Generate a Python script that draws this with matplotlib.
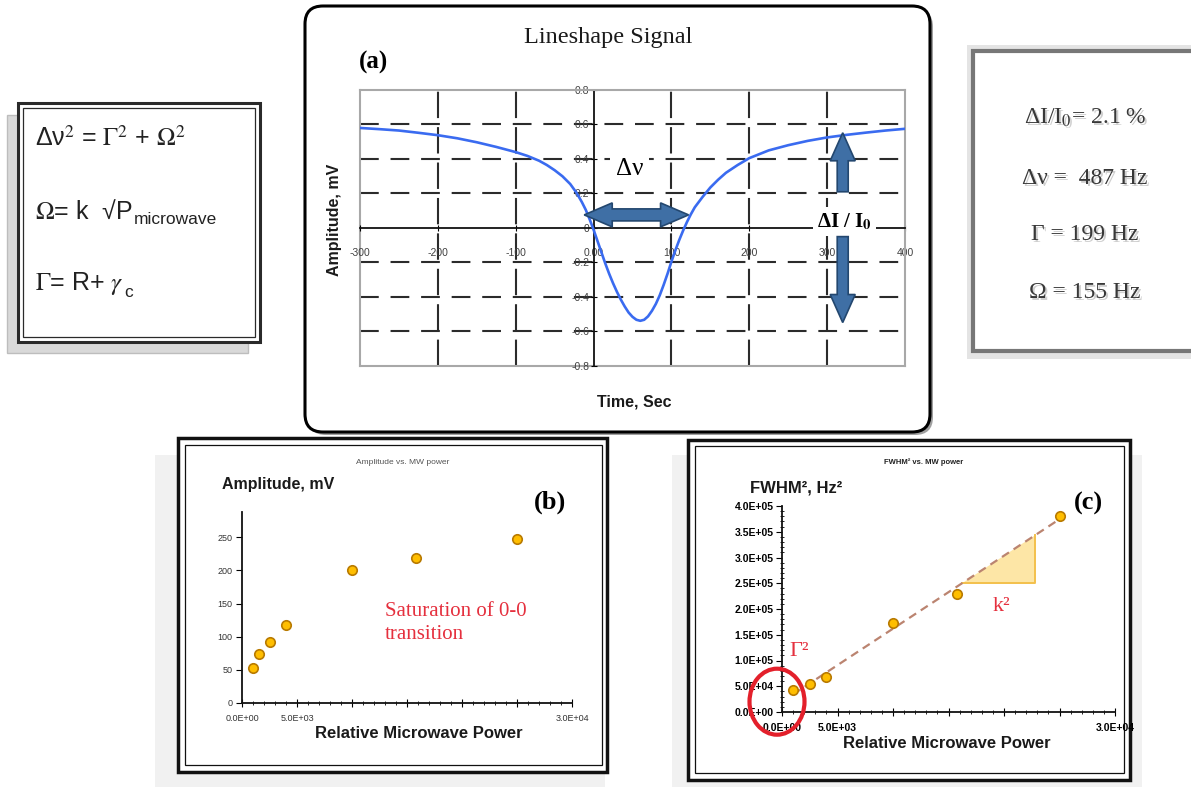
import numpy as np
import matplotlib
matplotlib.use("Agg")
import matplotlib.pyplot as plt
from matplotlib.patches import Rectangle, FancyBboxPatch, Ellipse, Polygon, FancyArrow

plt.rcParams['lines.scale_dashes'] = False
plt.rcParams['font.family'] = ['Liberation Sans', 'DejaVu Sans']

W, H, DPI = 1191, 787, 100

# ---------------- data ----------------
# (a) lineshape signal
time_sec = [-300, -275, -250, -225, -200, -175, -150, -125, -100, -85, -70, -60, -50, -40,
            -30, -22, -15, -10, -5, 0, 5, 10, 15, 20, 25, 30, 35, 40, 45, 50, 55, 60, 65,
            70, 75, 80, 85, 90, 95, 100, 105, 110, 115, 120, 125, 130, 140, 150, 160, 170,
            185, 200, 225, 250, 275, 300, 325, 350, 375, 400]
amp_mV = [0.58, 0.573, 0.565, 0.552, 0.538, 0.52, 0.497, 0.47, 0.44, 0.418, 0.39, 0.365,
          0.335, 0.30, 0.255, 0.205, 0.15, 0.105, 0.05, -0.01, -0.075, -0.14, -0.205,
          -0.265, -0.32, -0.37, -0.415, -0.455, -0.49, -0.515, -0.532, -0.538, -0.532,
          -0.512, -0.48, -0.44, -0.39, -0.33, -0.265, -0.195, -0.13, -0.07, -0.015, 0.035,
          0.08, 0.12, 0.18, 0.235, 0.28, 0.32, 0.365, 0.405, 0.45, 0.48, 0.505, 0.525,
          0.54, 0.553, 0.565, 0.575]
a_xticks = [-300, -200, -100, 0, 100, 200, 300, 400]
a_xticklabels = ['-300', '-200', '-100', '0.00', '100', '200', '300', '400']
a_yticks = [-0.8, -0.6, -0.4, -0.2, 0, 0.2, 0.4, 0.6, 0.8]
a_yticklabels = ['-0.8', '-0.6', '-0.4', '-0.2', '0', '0.2', '0.4', '0.6', '0.8']

# (b) amplitude vs microwave power
power_b = [1000, 1500, 2500, 4000, 10000, 15800, 25000]
amp_b = [53, 74, 92, 117, 201, 219, 248]
b_yticks = [0, 50, 100, 150, 200, 250]

# (c) FWHM^2 vs microwave power
power_c = [1000, 2500, 4000, 10000, 15800, 25000]
fwhm2_c = [42000, 55000, 68000, 172000, 229000, 381000]
c_yticks = [0, 5e4, 1e5, 1.5e5, 2e5, 2.5e5, 3e5, 3.5e5, 4e5]
c_yticklabels = ['0.0E+00', '5.0E+04', '1.0E+05', '1.5E+05', '2.0E+05',
                 '2.5E+05', '3.0E+05', '3.5E+05', '4.0E+05']

power_ticks = [0, 5000, 10000, 15000, 20000, 25000, 30000]
power_ticklabels = ['0.0E+00', '5.0E+03', '', '', '', '', '3.0E+04']

# fitted parameters box
results = ['ΔI/I$_0$= 2.1 %', 'Δν =  487 Hz', 'Γ = 199 Hz', 'Ω = 155 Hz']


def R(l, t, r, b):
    return [l / W, 1 - b / H, (r - l) / W, (b - t) / H]


fig = plt.figure(figsize=(W / DPI, H / DPI), dpi=DPI)
fig.patch.set_facecolor('white')

bg = fig.add_axes([0, 0, 1, 1], zorder=0)
bg.set_xlim(0, W); bg.set_ylim(H, 0); bg.axis('off')

ov = fig.add_axes([0, 0, 1, 1], zorder=10)
ov.set_xlim(0, W); ov.set_ylim(H, 0); ov.axis('off')

# ---------------- frames ----------------
bg.add_patch(Rectangle((155, 455), 450, 332, fc='#f1f1f1', ec='none', zorder=0))
bg.add_patch(Rectangle((672, 455), 470, 332, fc='#f1f1f1', ec='none', zorder=0))

bg.add_patch(FancyBboxPatch((308, 9), 625, 426, boxstyle='round,pad=0,rounding_size=18',
                            fc='#a0a0a0', ec='none', zorder=1))
bg.add_patch(FancyBboxPatch((305, 6), 625, 426, boxstyle='round,pad=0,rounding_size=18',
                            fc='white', ec='black', lw=2.2, zorder=2))

bg.add_patch(Rectangle((7, 115), 241, 238, fc='#d9d9d9', ec='#bdbdbd', lw=1, zorder=1))
bg.add_patch(Rectangle((18, 103), 242, 239, fc='white', ec='#2a2a2a', lw=2.2, zorder=2))
bg.add_patch(Rectangle((23, 108), 232, 229, fc='none', ec='#2a2a2a', lw=0.9, zorder=3))

bg.add_patch(Rectangle((967, 45), 240, 314, fc='#e4e4e4', ec='none', zorder=1))
bg.add_patch(Rectangle((973, 51), 240, 300, fc='white', ec='#777777', lw=3, zorder=2))

bg.add_patch(Rectangle((178, 438), 429, 334, fc='white', ec='#111111', lw=2.5, zorder=2))
bg.add_patch(Rectangle((185, 445), 417, 320, fc='none', ec='#111111', lw=0.9, zorder=3))

bg.add_patch(Rectangle((688, 440), 442, 340, fc='white', ec='#111111', lw=2.5, zorder=2))
bg.add_patch(Rectangle((695, 446), 429, 327, fc='none', ec='#111111', lw=0.9, zorder=3))

# ---------------- left formula box ----------------
fk = dict(family=['Liberation Sans'], fontsize=18, color='#222222', ha='left',
          va='baseline', zorder=5, math_fontfamily='stix')
sub = dict(family=['Liberation Sans'], fontsize=12.5, color='#222222', ha='left',
           va='baseline', zorder=5, textcoords='offset points')
bg.text(35, 146, 'Δν$^{2}$ = $\\Gamma^{2}$ + $\\Omega^{2}$', **fk)
t2 = bg.text(35, 219, '$\\Omega$= k  √P', **fk)
bg.annotate('microwave', xy=(1, 0), xycoords=t2, xytext=(1, 0), **sub)
t3 = bg.text(35, 290, '$\\Gamma$= R+ $\\gamma$', **fk)
bg.annotate('c', xy=(1, 0), xycoords=t3, xytext=(0.5, 0), **sub)

# ---------------- right results box ----------------
for i, s in enumerate(results):
    y = [118, 178, 235, 292][i]
    bg.text(1087, y + 2, s, family=['Liberation Serif'], fontsize=17, color='#b0b0b0',
            alpha=0.6, ha='center', va='center', zorder=4, math_fontfamily='stix')
    bg.text(1085, y, s, family=['Liberation Serif'], fontsize=17, color='#383838',
            ha='center', va='center', zorder=5, math_fontfamily='stix')

# ---------------- panel (a) ----------------
ax = fig.add_axes(R(360, 90, 905, 366), zorder=2)
ax.set_facecolor('none')
ax.set_xlim(-300, 400); ax.set_ylim(-0.8, 0.8)
for v in [-200, -100, 100, 200, 300]:
    ax.axvline(v, color='#2b2b2b', lw=1.5, dashes=(19, 6.5), zorder=1)
for h in [-0.6, -0.4, -0.2, 0.2, 0.4, 0.6]:
    ax.axhline(h, color='#2b2b2b', lw=1.5, dashes=(13.5, 8.5), zorder=1)
ax.axvline(-300, color='#a8a8a8', lw=1.5, clip_on=False, zorder=1)
ax.axhline(-0.8, color='#a8a8a8', lw=1.5, clip_on=False, zorder=1)
ax.spines['left'].set_position(('data', 0))
ax.spines['bottom'].set_position(('data', 0))
for s in ['left', 'bottom']:
    ax.spines[s].set_color('#111111'); ax.spines[s].set_linewidth(1.3)
for s in ['top', 'right']:
    ax.spines[s].set_color('#a8a8a8'); ax.spines[s].set_linewidth(1.5)
ax.set_xticks(a_xticks, a_xticklabels)
ax.set_yticks(a_yticks, a_yticklabels)
ax.tick_params(axis='x', direction='inout', length=5, labelsize=7.5, pad=12,
               labelcolor='#404040')
ax.tick_params(axis='y', direction='inout', length=5, labelsize=7.5, pad=0.5,
               labelcolor='#404040')
ax.plot(time_sec, amp_mV, color='#3a6bf0', lw=1.9, zorder=4)

ax.text(46, 0.34, 'Δν', family=['Liberation Serif'], fontsize=18, ha='center',
        va='center', zorder=3, bbox=dict(fc='white', ec='none', pad=4))
ax.text(322, 0.035, 'ΔI / I$_\\mathbf{0}$', family=['Liberation Serif'], fontsize=15,
        fontweight='bold', ha='center', va='center', zorder=3, math_fontfamily='stix',
        bbox=dict(fc='white', ec='none', pad=3))


def to_ov(axx, x, y):
    return ov.transData.inverted().transform(axx.transData.transform((x, y)))


# double-headed Δν arrow
(x0, cy), (x1, _) = to_ov(ax, -12, 0.076), to_ov(ax, 122, 0.076)
hl, hw, sw = 28, 12, 6
verts = [(x0, cy), (x0 + hl, cy - hw), (x0 + hl, cy - sw), (x1 - hl, cy - sw),
         (x1 - hl, cy - hw), (x1, cy), (x1 - hl, cy + hw), (x1 - hl, cy + sw),
         (x0 + hl, cy + sw), (x0 + hl, cy + hw)]
ov.add_patch(Polygon(verts, closed=True, fc='#3f6fa5', ec='#23476f', lw=1.2))

# vertical ΔI/I0 arrows
for ya, yb in [(0.21, 0.552), (-0.05, -0.548)]:
    pa = to_ov(ax, 320, ya); pb = to_ov(ax, 320, yb)
    ov.add_patch(FancyArrow(pa[0], pa[1], 0, pb[1] - pa[1], width=11, head_width=25,
                            head_length=28, length_includes_head=True,
                            fc='#3f6fa5', ec='#23476f', lw=1.2))

bg.text(608, 38, 'Lineshape Signal', family=['Liberation Serif'], fontsize=17.5,
        ha='center', va='center', color='#1a1a1a', zorder=5)
bg.text(373, 62, '(a)', family=['Liberation Serif'], fontsize=18, fontweight='bold',
        ha='center', va='center', zorder=5)
bg.text(335, 220, 'Amplitude, mV', fontsize=11.5, fontweight='bold', rotation=90,
        ha='center', va='center', color='#1a1a1a', zorder=5)
bg.text(634, 402, 'Time, Sec', fontsize=11.5, fontweight='bold', ha='center',
        va='center', color='#1a1a1a', zorder=5)

# ---------------- panel (b) ----------------
bx = fig.add_axes(R(242, 512, 572, 703), zorder=2)
bx.set_facecolor('none')
bx.set_xlim(0, 30000); bx.set_ylim(0, 288)
for s in ['top', 'right']:
    bx.spines[s].set_visible(False)
for s in ['left', 'bottom']:
    bx.spines[s].set_linewidth(1.3); bx.spines[s].set_color('#111111')
bx.set_yticks(b_yticks)
bx.set_xticks(power_ticks, power_ticklabels)
bx.set_xticks(range(0, 30001, 1000), minor=True)
bx.tick_params(axis='y', direction='out', length=4, labelsize=6.5, labelcolor='#333333', pad=3)
bx.tick_params(axis='x', which='major', direction='inout', length=6, labelsize=6.5,
               labelcolor='#333333', pad=5)
bx.tick_params(axis='x', which='minor', direction='inout', length=3)
bx.plot(power_b, amp_b, 'o', ls='none', ms=6.8, mfc='#FFBE00', mec='#B87A00', mew=1.2,
        zorder=3, clip_on=False)
bx.text(13000, 121, 'Saturation of 0-0\ntransition', family=['Liberation Serif'],
        fontsize=15, color='#e5303e', ha='left', va='center', linespacing=1.25)

bg.text(403, 462, 'Amplitude vs. MW power', fontsize=6, color='#555555', ha='center',
        va='center', zorder=5)
bg.text(278, 485, 'Amplitude, mV', fontsize=11.5, fontweight='bold', ha='center',
        va='center', color='#1a1a1a', zorder=5)
bg.text(419, 733, 'Relative Microwave Power', fontsize=12, fontweight='bold',
        ha='center', va='center', color='#1a1a1a', zorder=5)
bg.text(550, 502, '(b)', family=['Liberation Serif'], fontsize=19, fontweight='bold',
        ha='center', va='center', zorder=5)

# ---------------- panel (c) ----------------
cx = fig.add_axes(R(782, 506, 1115, 712), zorder=2)
cx.set_facecolor('none')
cx.set_xlim(0, 30000); cx.set_ylim(0, 4e5)
for s in ['top', 'right']:
    cx.spines[s].set_visible(False)
for s in ['left', 'bottom']:
    cx.spines[s].set_linewidth(1.3); cx.spines[s].set_color('#111111')
cx.set_yticks(c_yticks, c_yticklabels, fontweight='bold')
cx.set_yticks(np.arange(0, 4e5 + 1, 1e4), minor=True)
cx.set_xticks(power_ticks, power_ticklabels, fontweight='bold')
cx.set_xticks(range(0, 30001, 1000), minor=True)
cx.tick_params(axis='y', which='major', direction='out', length=4, labelsize=7.5, pad=2)
cx.tick_params(axis='y', which='minor', direction='inout', length=2.5)
cx.tick_params(axis='x', which='major', direction='inout', length=6, labelsize=7.5, pad=5)
cx.tick_params(axis='x', which='minor', direction='inout', length=3)

coef = np.polyfit(power_c, fwhm2_c, 1)
xs = np.array([min(power_c), max(power_c)])
cx.plot(xs, np.polyval(coef, xs), color='#bb8470', lw=1.6, dashes=(6, 4), zorder=2)
tx = np.array([16200, 22800])
ty = np.polyval(coef, tx)
cx.add_patch(Polygon([(tx[0], ty[0]), (tx[1], ty[1]), (tx[1], ty[0])], closed=True,
                     fc='#fde6a6', ec='none', zorder=1))
cx.plot([tx[1], tx[1], tx[0]], [ty[1], ty[0], ty[0]], color='#f3c04c', lw=1.4, zorder=1)
cx.plot(power_c, fwhm2_c, 'o', ls='none', ms=6.8, mfc='#FFBE00', mec='#B87A00', mew=1.2,
        zorder=3, clip_on=False)
cx.text(19800, 205000, 'k²', family=['Liberation Serif'], fontsize=16, color='#e5303e',
        ha='center', va='center')
cx.text(1500, 118000, 'Γ²', family=['Liberation Serif'], fontsize=16, color='#e5303e',
        ha='center', va='center')

ec_c = to_ov(cx, -450, 20000)
ov.add_patch(Ellipse((ec_c[0], ec_c[1]), 55, 66, fill=False, ec='#e3202b', lw=3))

bg.text(924, 462, 'FWHM² vs. MW power', fontsize=5.5, fontweight='bold', color='#222222',
        ha='center', va='center', zorder=5)
bg.text(796, 488, 'FWHM², Hz²', fontsize=12, fontweight='bold', ha='center', va='center',
        color='#1a1a1a', zorder=5)
bg.text(947, 743, 'Relative Microwave Power', fontsize=12, fontweight='bold',
        ha='center', va='center', color='#1a1a1a', zorder=5)
bg.text(1088, 503, '(c)', family=['Liberation Serif'], fontsize=19, fontweight='bold',
        ha='center', va='center', zorder=5)

fig.savefig('out.png', dpi=DPI, facecolor='white')
